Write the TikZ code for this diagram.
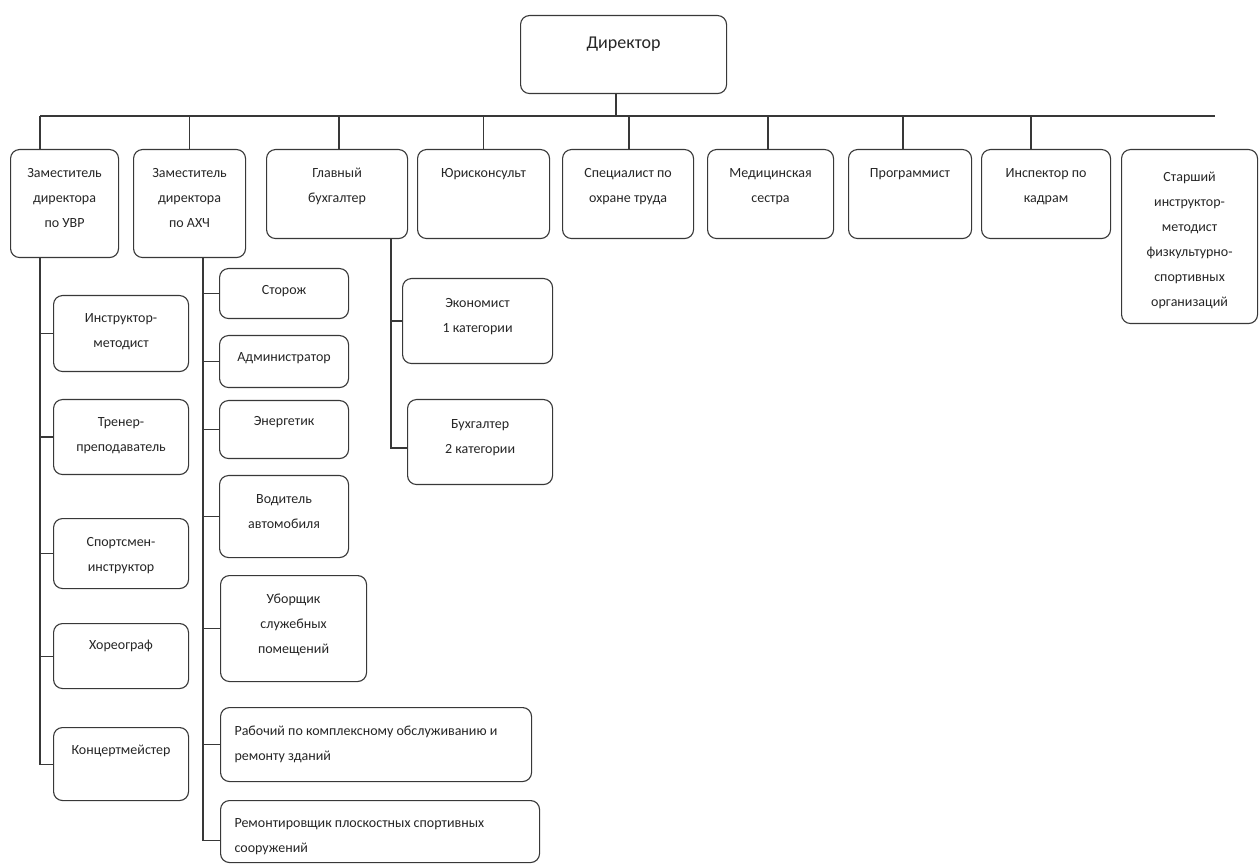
\documentclass[tikz,border=0pt]{standalone}
\usepackage{fontspec}
\setmainfont{Carlito}
\definecolor{linec}{gray}{0.22}
\definecolor{textc}{gray}{0.15}
\tikzset{
  box/.style={draw=linec, line width=1.1pt, rounded corners=9pt, inner sep=0pt, anchor=north west,
    text=textc, font=\fontsize{14}{25}\selectfont},
  link/.style={draw=linec, line width=1.1pt}
}
\newcommand{\cbox}[7]{\node[box] (#1) at (#2,#3) {\parbox[c][#5pt][t]{#4pt}{\centering\vspace*{#6pt}\rule{0pt}{12pt}#7\par}};}
\newcommand{\lbox}[7]{\node[box] (#1) at (#2,#3) {\parbox[c][#5pt][t]{#4pt}{\raggedright\leftskip=14pt\vspace*{#6pt}\rule{0pt}{12pt}#7\par}};}
\begin{document}
\begin{tikzpicture}[x=1pt, y=-1pt]
\useasboundingbox[fill=white] (0,0) rectangle (1259,866);
% director
\cbox{dir}{520}{15}{206}{78}{21}{\fontsize{18}{22}\selectfont Директор}
% first row
\cbox{uvr}{10}{149}{108}{108}{16}{Заместитель\\директора\\по УВР}
\cbox{axc}{133}{149}{112}{108}{16}{Заместитель\\директора\\по АХЧ}
\cbox{glav}{266}{149}{141}{89}{16}{Главный\\бухгалтер}
\cbox{yur}{417}{149}{132}{89}{16}{Юрисконсульт}
\cbox{spec}{562}{149}{131}{89}{16}{Специалист по\\охране труда}
\cbox{med}{707}{149}{126}{89}{16}{Медицинская\\сестра}
\cbox{prog}{848}{149}{123}{89}{16}{Программист}
\cbox{insp}{981}{149}{129}{89}{16}{Инспектор по\\кадрам}
\cbox{star}{1121}{149}{136}{174}{20}{Старший\\инструктор-\\методист\\физкультурно-\\спортивных\\организаций}
% UVR children
\cbox{instr}{53}{295}{135}{76}{15}{Инструктор-\\методист}
\cbox{trener}{53}{399}{135}{75}{15}{Тренер-\\преподаватель}
\cbox{sport}{53}{518}{135}{70}{16}{Спортсмен-\\инструктор}
\cbox{hor}{53}{623}{135}{65}{14}{Хореограф}
\cbox{konc}{53}{727}{135}{73}{15}{Концертмейстер}
% AXC children
\cbox{stor}{219}{268}{129}{50}{14}{Сторож}
\cbox{adm}{219}{335}{129}{52}{14}{Администратор}
\cbox{energ}{219}{400}{129}{58}{13}{Энергетик}
\cbox{vod}{219}{475}{129}{82}{16}{Водитель\\автомобиля}
\cbox{ubor}{220}{575}{146}{106}{16}{Уборщик\\служебных\\помещений}
\lbox{rab}{220}{707}{311}{74}{16}{Рабочий по комплексному обслуживанию и\\ремонту зданий}
\lbox{rem}{220}{800}{319}{62}{15}{Ремонтировщик плоскостных спортивных\\сооружений}
% Glav children
\cbox{econ}{402}{278}{150}{85}{17}{Экономист\\1 категории}
\cbox{buh}{407}{399}{145}{85}{17}{Бухгалтер\\2 категории}
% bus
\coordinate (bus) at (616,116);
\coordinate (busL) at (40,116);
\coordinate (busR) at (1215,116);
\draw[link] (busL) -- (busR);
\draw[link] (bus |- dir.south) -- (bus);
\draw[link] ([xshift=30pt]uvr.north west) |- (busL);
\draw[link] (axc.north) |- (busL);
\draw[link] ([xshift=73pt]glav.north west) |- (busL);
\draw[link] (yur.north) |- (busL);
\draw[link] ([xshift=67pt]spec.north west) |- (busL);
\draw[link] ([xshift=61pt]med.north west) |- (busL);
\draw[link] ([xshift=55pt]prog.north west) |- (busL);
\draw[link] ([xshift=50pt]insp.north west) |- (busL);
% UVR branch
\draw[link] ([xshift=30pt]uvr.south west) |- (instr.west);
\draw[link] ([xshift=30pt]uvr.south west) |- (trener.west);
\draw[link] ([xshift=30pt]uvr.south west) |- (sport.west);
\draw[link] ([xshift=30pt]uvr.south west) |- (hor.west);
\draw[link] ([xshift=30pt]uvr.south west) |- (konc.west);
% AXC branch
\draw[link] ([xshift=70pt]axc.south west) |- (stor.west);
\draw[link] ([xshift=70pt]axc.south west) |- (adm.west);
\draw[link] ([xshift=70pt]axc.south west) |- (energ.west);
\draw[link] ([xshift=70pt]axc.south west) |- (vod.west);
\draw[link] ([xshift=70pt]axc.south west) |- (ubor.west);
\draw[link] ([xshift=70pt]axc.south west) |- (rab.west);
\draw[link] ([xshift=70pt]axc.south west) |- ([yshift=-9pt]rem.west);
% Glav branch
\draw[link] ([xshift=125pt]glav.south west) |- (econ.west);
\draw[link] ([xshift=125pt]glav.south west) |- ([yshift=-6pt]buh.west);
\end{tikzpicture}
\end{document}
